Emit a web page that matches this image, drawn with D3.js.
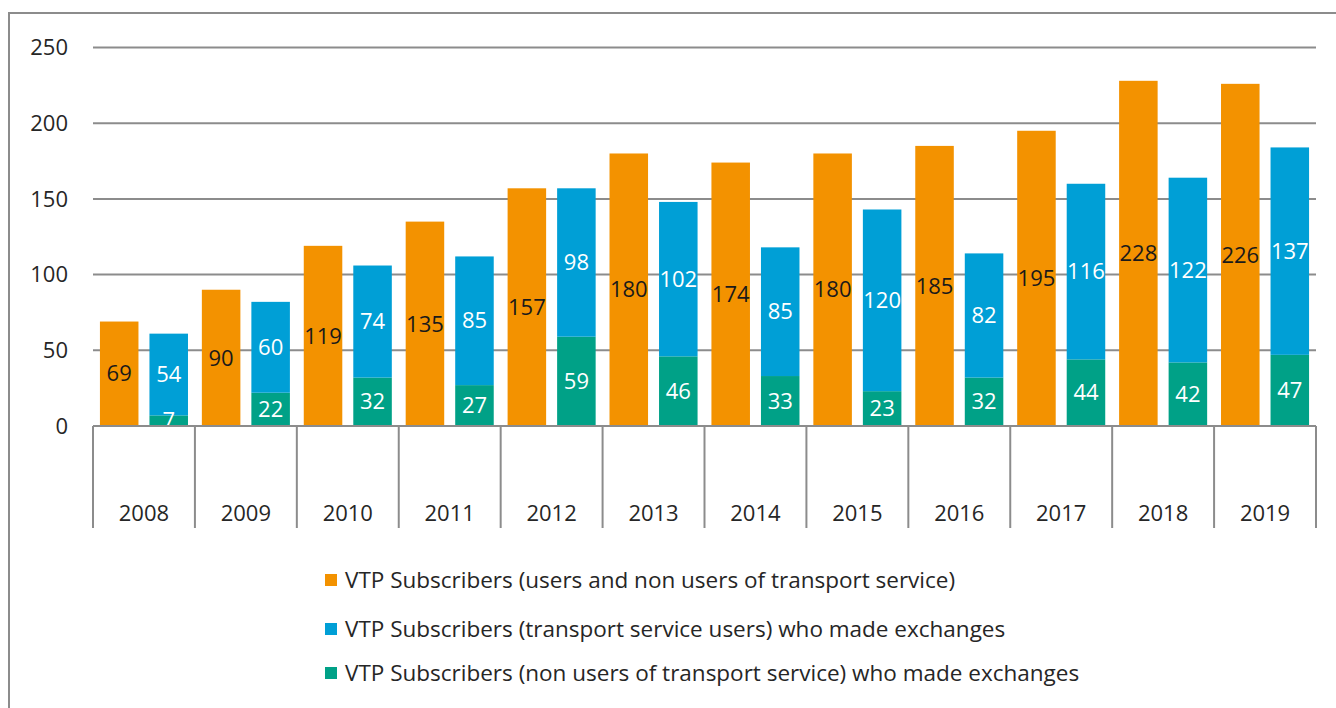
<!DOCTYPE html>
<html><head><meta charset="utf-8">
<script src="https://cdn.jsdelivr.net/npm/d3@7"></script>
<style>
html,body{margin:0;padding:0;background:#fff;}
svg{display:block;font-family:"Open Sans","Noto Sans",sans-serif;}
</style></head>
<body>
<svg id="chart" width="1336" height="708"></svg>
<script>
const years = ["2008","2009","2010","2011","2012","2013","2014","2015","2016","2017","2018","2019"];
const allSubscribers = [69, 90, 119, 135, 157, 180, 174, 180, 185, 195, 228, 226];
const transportUsersExch = [54, 60, 74, 85, 98, 102, 85, 120, 82, 116, 122, 137];
const nonUsersExch = [7, 22, 32, 27, 59, 46, 33, 23, 32, 44, 42, 47];
const yTicks = [0, 50, 100, 150, 200, 250];
const seriesNames = [
  "VTP Subscribers (users and non users of transport service)",
  "VTP Subscribers (transport service users) who made exchanges",
  "VTP Subscribers (non users of transport service) who made exchanges"
];
const colors = ["#F39200", "#009FD6", "#00A187"];

(function () {
const svg = d3.select("#chart");
const pLeft = 93, pRight = 1316, pTop = 47.5, pBottom = 426;
const gridColor = "#8c8c8c";
const fs = 22;

svg.append("rect").attr("x", 9).attr("y", 13).attr("width", 1340).attr("height", 710)
  .attr("fill", "none").attr("stroke", gridColor).attr("stroke-width", 2);

const y = d3.scaleLinear().domain([0, 250]).range([pBottom, pTop]);
const x0 = d3.scaleBand().domain(years).range([pLeft, pRight]).padding(0);
const x1 = d3.scaleBand().domain(["a", "b"]).range([0, x0.bandwidth()]).paddingInner(0.222).paddingOuter(0.14);

svg.append("g").selectAll("line").data(yTicks).join("line")
  .attr("x1", pLeft).attr("x2", pRight)
  .attr("y1", d => y(d)).attr("y2", d => y(d))
  .attr("stroke", gridColor).attr("stroke-width", 2);

svg.append("g").selectAll("text").data(yTicks).join("text")
  .attr("x", 68).attr("y", d => y(d)).attr("dy", "0.35em")
  .attr("text-anchor", "end").attr("font-size", fs).attr("fill", "#262626")
  .text(d => d);

const data = years.map((yr, i) => ({yr, o: allSubscribers[i], b: transportUsersExch[i], g: nonUsersExch[i]}));

const bars = svg.append("g");
bars.selectAll("rect.o").data(data).join("rect").attr("class", "o")
  .attr("x", d => x0(d.yr) + x1("a")).attr("width", x1.bandwidth())
  .attr("y", d => y(d.o)).attr("height", d => y(0) - y(d.o)).attr("fill", colors[0]);
bars.selectAll("rect.g").data(data).join("rect").attr("class", "g")
  .attr("x", d => x0(d.yr) + x1("b")).attr("width", x1.bandwidth())
  .attr("y", d => y(d.g)).attr("height", d => y(0) - y(d.g)).attr("fill", colors[2]);
bars.selectAll("rect.b").data(data).join("rect").attr("class", "b")
  .attr("x", d => x0(d.yr) + x1("b")).attr("width", x1.bandwidth())
  .attr("y", d => y(d.g + d.b)).attr("height", d => y(d.g) - y(d.g + d.b)).attr("fill", colors[1]);

const lab = svg.append("g").attr("font-size", fs).attr("text-anchor", "middle");
lab.selectAll("text.o").data(data).join("text").attr("class", "o")
  .attr("x", d => x0(d.yr) + x1("a") + x1.bandwidth() / 2)
  .attr("y", d => y(d.o / 2)).attr("dy", "0.35em").attr("fill", "#1a1a1a").text(d => d.o);
lab.selectAll("text.b").data(data).join("text").attr("class", "b")
  .attr("x", d => x0(d.yr) + x1("b") + x1.bandwidth() / 2)
  .attr("y", d => y(d.g + d.b / 2)).attr("dy", "0.35em").attr("fill", "#fff").text(d => d.b);
lab.selectAll("text.g").data(data).join("text").attr("class", "g")
  .attr("x", d => x0(d.yr) + x1("b") + x1.bandwidth() / 2)
  .attr("y", d => y(d.g / 2)).attr("dy", "0.35em").attr("fill", "#fff").text(d => d.g);

svg.append("line").attr("x1", pLeft).attr("x2", pRight).attr("y1", y(0)).attr("y2", y(0))
  .attr("stroke", gridColor).attr("stroke-width", 2);

const bounds = years.map(d => x0(d)).concat([pRight]);
svg.append("g").selectAll("line").data(bounds).join("line")
  .attr("x1", d => d).attr("x2", d => d).attr("y1", y(0)).attr("y2", 528)
  .attr("stroke", gridColor).attr("stroke-width", 2);

svg.append("g").selectAll("text").data(years).join("text")
  .attr("x", d => x0(d) + x0.bandwidth() / 2).attr("y", 513).attr("dy", "0.35em")
  .attr("text-anchor", "middle").attr("font-size", fs).attr("fill", "#262626").text(d => d);

const legRows = [580, 629, 673];
const leg = svg.append("g").selectAll("g").data(seriesNames).join("g")
  .attr("transform", (d, i) => `translate(325,${legRows[i]})`);
leg.append("rect").attr("x", 0).attr("y", -6).attr("width", 12).attr("height", 12)
  .attr("fill", (d, i) => colors[i]);
leg.append("text").attr("x", 20).attr("y", 0).attr("dy", "0.35em")
  .attr("font-size", 22.5).attr("fill", "#262626").text(d => d);
})();
</script>
</body></html>
